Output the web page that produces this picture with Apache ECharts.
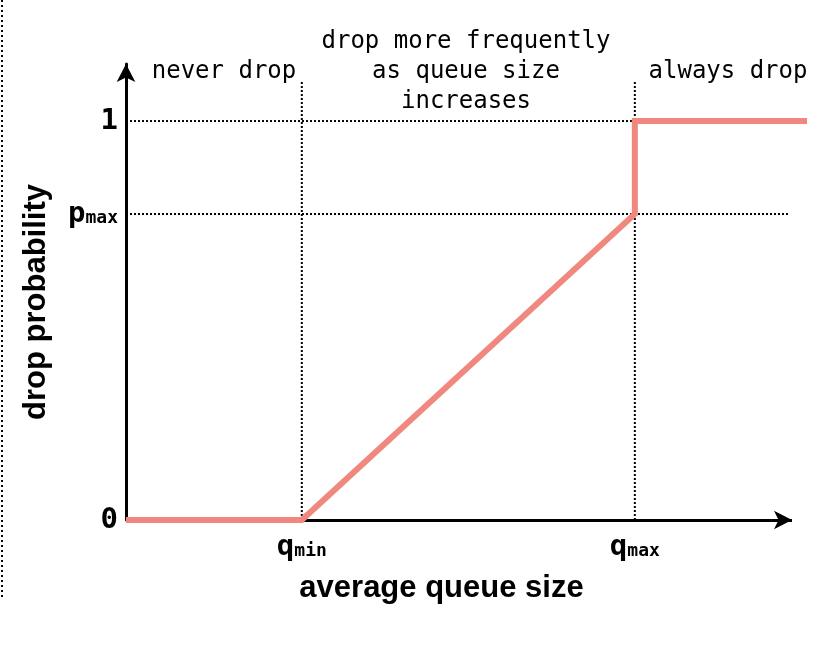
<!DOCTYPE html>
<html>
<head>
<meta charset="utf-8">
<script src="https://cdn.jsdelivr.net/npm/echarts@6/dist/echarts.min.js"></script>
<style>
  html, body { margin: 0; padding: 0; background: #fff; }
  #chart { width: 826px; height: 662px; }
</style>
</head>
<body>
<div id="chart"></div>
<script>
// thresholds (x: fraction of axis arrow length, y: probability)
var qMin = 0.264;
var qMax = 0.764;
var pMax = 0.767;
var xArrow = 1.0;
var xEnd = 1.0225;
var yTop = 1.143;

// red curve
var curveX = [0, qMin, qMax, qMax, xEnd];
var curveY = [0, 0, pMax, 1, 1];

// dotted guide lines: [x0, y0, x1, y1]
var guides = [
  [0, 1, qMax, 1],
  [0, pMax, 0.995, pMax],
  [qMin, 0, qMin, 1.10],
  [qMax, 0, qMax, 1.10]
];

var yTicks = [0, pMax, 1];
var yTickLabels = ['{n|0}', '{big|p}{sub|max}', '{n|1}'];
var xTicks = [qMin, qMax];
var xTickLabels = ['{big|q}{sub|min}', '{big|q}{sub|max}'];

var regionNotes = [
  { text: 'never drop', x: 224, y: 72 },
  { text: 'drop more frequently\nas queue size\nincreases', x: 466, y: 72 },
  { text: 'always drop', x: 728, y: 72 }
];

try {
  var chart = echarts.init(document.getElementById('chart'));

  function pick(list, labels, v) {
    for (var i = 0; i < list.length; i++) {
      if (Math.abs(list[i] - v) < 1e-6) return labels[i];
    }
    return '';
  }

  var tickRich = {
    n: { fontFamily: 'DejaVu Sans Mono', fontWeight: 'bold', fontSize: 29, color: '#000' },
    big: { fontFamily: 'DejaVu Sans Mono', fontWeight: 'bold', fontSize: 29, color: '#000' },
    sub: { fontFamily: 'DejaVu Sans Mono', fontWeight: 'bold', fontSize: 18, color: '#000', padding: [8, 0, 0, 0] }
  };

  var series = [];
  guides.forEach(function (g) {
    series.push({
      type: 'line',
      data: [[g[0], g[1]], [g[2], g[3]]],
      symbol: 'none',
      silent: true,
      lineStyle: { color: '#000', width: 2, type: [2, 2] },
      z: 1
    });
  });
  // x axis line with arrow, shorter than the curve
  series.push({
    type: 'line',
    data: [],
    silent: true,
    markLine: {
      silent: true,
      animation: false,
      symbol: ['none', 'arrow'],
      symbolSize: [14, 18],
      label: { show: false },
      lineStyle: { color: '#000', width: 3, type: 'solid' },
      data: [[{ coord: [0, 0] }, { coord: [xArrow, 0] }]]
    },
    z: 2
  });
  series.push({
    type: 'line',
    data: curveX.map(function (x, i) { return [x, curveY[i]]; }),
    symbol: 'none',
    lineStyle: { color: '#f08880', width: 6, join: 'miter' },
    z: 5
  });

  var option = {
    animation: false,
    backgroundColor: '#fff',
    grid: { left: 126, right: 19, top: 64, bottom: 142 },
    xAxis: {
      type: 'value',
      min: 0,
      max: xEnd,
      name: 'average queue size',
      nameLocation: 'middle',
      nameGap: 53,
      nameTextStyle: { fontFamily: 'Liberation Sans', fontWeight: 'bold', fontSize: 31, color: '#000', padding: [0, 50, 0, 0] },
      splitLine: { show: false },
      axisTick: { show: false },
      axisLine: { show: false },
      axisLabel: {
        customValues: xTicks,
        margin: 13,
        formatter: function (v) { return pick(xTicks, xTickLabels, v); },
        rich: tickRich
      }
    },
    yAxis: {
      type: 'value',
      min: 0,
      max: yTop,
      name: 'drop probability',
      nameLocation: 'middle',
      nameGap: 74,
      nameRotate: 90,
      nameTextStyle: { fontFamily: 'Liberation Sans', fontWeight: 'bold', fontSize: 31, color: '#000', padding: [0, 20, 0, 0] },
      splitLine: { show: false },
      axisTick: { show: false },
      axisLine: {
        lineStyle: { color: '#000', width: 3 },
        symbol: ['none', 'arrow'],
        symbolSize: [14, 18]
      },
      axisLabel: {
        customValues: yTicks,
        margin: 8,
        formatter: function (v) { return pick(yTicks, yTickLabels, v); },
        rich: tickRich
      }
    },
    graphic: [
      {
        type: 'line',
        shape: { x1: 2, y1: 0, x2: 2, y2: 600 },
        style: { stroke: '#000', lineWidth: 2, lineDash: [2, 3] }
      }
    ].concat(regionNotes.map(function (n) {
      return {
        type: 'text',
        x: n.x,
        y: n.y,
        style: {
          text: n.text,
          x: 0,
          y: 0,
          align: 'center',
          verticalAlign: 'middle',
          fontFamily: 'DejaVu Sans Mono',
          fontSize: 24,
          lineHeight: 30,
          fill: '#000'
        }
      };
    })),
    series: series
  };
  chart.setOption(option);
} catch (error) {
  console.error('Failed to draw chart');
  console.error(error);
}
</script>
</body>
</html>
